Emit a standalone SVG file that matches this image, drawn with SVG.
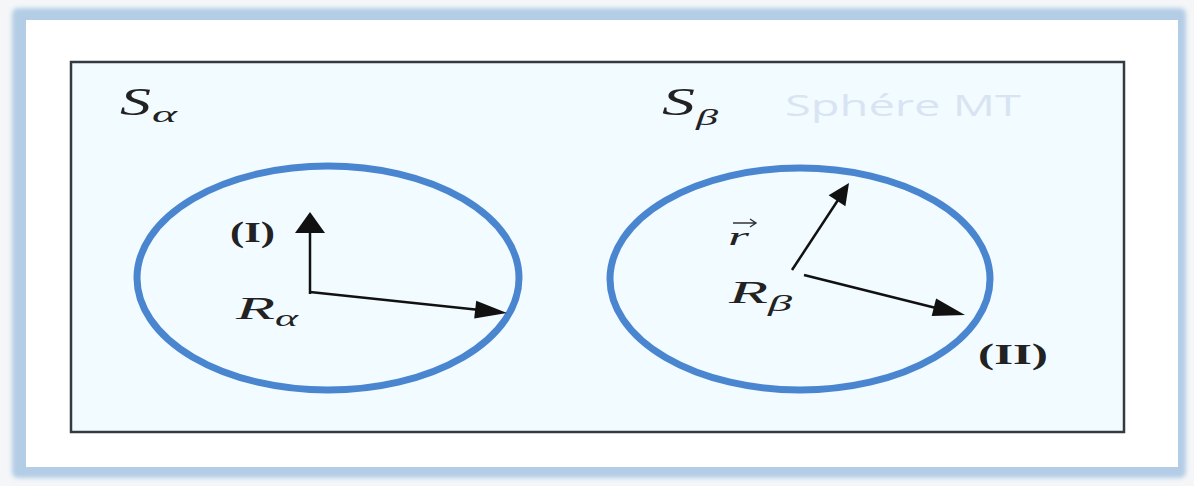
<svg xmlns="http://www.w3.org/2000/svg" width="1194" height="486" viewBox="0 0 1194 486">
<defs>
<filter id="blur" x="-5%" y="-5%" width="110%" height="110%"><feGaussianBlur stdDeviation="2"/></filter>
</defs>
<style>
.math{font-family:"Liberation Serif","DejaVu Serif",serif;font-style:italic;fill:#222}
.lab{font-family:"Liberation Serif","DejaVu Serif",serif;font-weight:bold;fill:#222;font-size:30px}
.ring{fill:none;stroke:#4a86d0;stroke-width:7}
.vec{stroke:#111;stroke-width:2.5;fill:none}
.head{fill:#111}
</style>
<rect x="0" y="0" width="1194" height="486" fill="#f4f6f8"/>
<rect x="12" y="8" width="1174" height="470" rx="6" fill="#b4cde6" filter="url(#blur)"/>
<rect x="26" y="20" width="1152" height="447" fill="#ffffff"/>
<g id="frame">
<rect x="71" y="62" width="1053" height="370" fill="#f2fbff" stroke="#333a40" stroke-width="2.5"/>
</g>
<g id="sphere-alpha">
<ellipse class="ring" cx="328" cy="278" rx="191" ry="112"/>
<text class="math" x="120" y="115" font-size="40" textLength="31" lengthAdjust="spacingAndGlyphs">S</text>
<text class="math" x="152" y="122" font-size="24" textLength="25" lengthAdjust="spacingAndGlyphs">α</text>
<text class="lab" x="230" y="242" textLength="45" lengthAdjust="spacingAndGlyphs">(I)</text>
<text class="math" x="236" y="319" font-size="32" textLength="39" lengthAdjust="spacingAndGlyphs">R</text>
<text class="math" x="275" y="326" font-size="24" textLength="23" lengthAdjust="spacingAndGlyphs">α</text>
</g>
<g id="sphere-beta">
<ellipse class="ring" cx="800" cy="279" rx="190" ry="111"/>
<text class="math" x="662" y="115" font-size="40" textLength="33" lengthAdjust="spacingAndGlyphs">S</text>
<text class="math" x="696" y="125" font-size="24" textLength="22" lengthAdjust="spacingAndGlyphs">β</text>
<text x="785" y="116" font-family="'Open Sans','Noto Sans',sans-serif" font-size="29" fill="#d9e4f3" textLength="236" lengthAdjust="spacingAndGlyphs">Sphére MT</text>
<text class="math" x="728" y="245" font-size="26" textLength="21" lengthAdjust="spacingAndGlyphs">r</text>
<path d="M733,223 L756,223 M750,219 L756,223 L750,227" stroke="#333" stroke-width="1.4" fill="none"/>
<text class="math" x="729" y="303" font-size="32" textLength="39" lengthAdjust="spacingAndGlyphs">R</text>
<text class="math" x="768" y="311" font-size="24" textLength="24" lengthAdjust="spacingAndGlyphs">β</text>
<text class="lab" x="978" y="364" textLength="70" lengthAdjust="spacingAndGlyphs">(II)</text>
</g>
<g id="connectors">
<line class="vec" x1="310" y1="294" x2="310" y2="228"/>
<polygon class="head" points="310,212 325,233 295,233"/>
<line class="vec" x1="310" y1="292" x2="480" y2="310"/>
<polygon class="head" points="507,313 474.2,318.5 476.2,300.7"/>
<line class="vec" x1="792" y1="270" x2="840" y2="197"/>
<polygon class="head" points="849,183 845.4,206.2 828.6,195.2"/>
<line class="vec" x1="804" y1="275" x2="940" y2="309"/>
<polygon class="head" points="965,315 931.7,316 936.1,298.6"/>
</g>
</svg>
